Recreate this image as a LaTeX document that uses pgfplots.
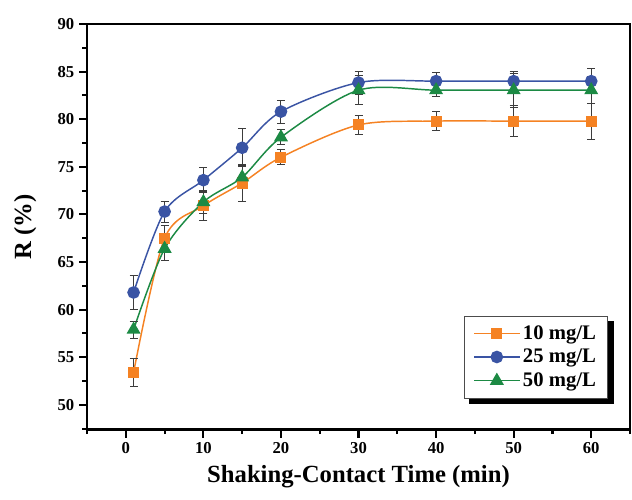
\documentclass[border=0pt]{standalone}
\usepackage{pgfplots}
\pgfplotsset{compat=1.18}
\usepackage{pgfplotstable}
\usepackage{fontspec}
\setmainfont{Liberation Serif}
\usetikzlibrary{backgrounds}

\definecolor{corange}{RGB}{245,130,35}
\definecolor{cblue}{RGB}{58,84,164}
\definecolor{cgreen}{RGB}{28,138,68}
\definecolor{cerr}{RGB}{60,60,60}

% time  R  error
\pgfplotstableread{
t   r     e
1   53.4  1.5
5   67.5  1.3
10  70.9  1.5
15  73.3  1.9
20  76.0  0.8
30  79.4  1.0
40  79.8  1.0
50  79.8  1.6
60  79.8  1.9
}\tenmg
\pgfplotstableread{
t   r     e
1   61.8  1.8
5   70.3  1.1
10  73.6  1.3
15  77.0  2.0
20  80.8  1.2
30  83.85 1.2
40  84.0  0.9
50  84.0  1.0
60  84.0  1.3
}\twentyfivemg
\pgfplotstableread{
t   r     e
1   57.9  0.9
5   66.4  1.2
10  71.3  1.2
15  73.9  1.2
20  78.1  0.8
30  83.05 1.5
40  83.05 0.7
50  83.05 1.8
60  83.05 1.4
}\fiftymg

\begin{document}
\begin{tikzpicture}
\begin{axis}[
    name=ax,
    scale only axis,
    width=407pt, height=304pt,
    xmin=-5, xmax=65,
    ymin=47.4, ymax=90,
    xtick={0,10,...,60},
    minor xtick={-5,5,...,65},
    ytick={50,55,...,90},
    minor ytick={47.5,52.5,...,87.5},
    tick pos=left,
    tick align=outside,
    major tick length=6pt,
    minor tick length=3.5pt,
    every tick/.style={black, line width=1.6pt},
    axis line style={line width=2pt},
    /pgf/number format/assume math mode=true,
    tick label style={font=\bfseries\fontsize{12.5}{14}\selectfont},
    xlabel={Shaking-Contact Time (min)},
    ylabel={R (\%)},
    label style={font=\bfseries\fontsize{18.5}{21}\selectfont},
    xlabel style={yshift=-2pt},
    ylabel style={yshift=9pt},
    legend cell align=left,
    legend style={
        name=leg,
        at={(0.96,0.077)}, anchor=south east,
        draw=black!70, line width=0.6pt, fill=white,
        font=\bfseries\fontsize{15.5}{17}\selectfont,
        inner xsep=7pt, inner ysep=5pt,
        row sep=2pt,
    },
    legend image code/.code={
        \draw[#1, sharp plot, mark=none, line width=1.1pt] (0pt,0pt) -- (34pt,0pt);
        \draw[#1, only marks] plot coordinates {(17pt,0pt)};
    },
    every axis plot/.append style={line width=1.1pt},
    error bars/error bar style={cerr, line width=0.7pt},
    error bars/error mark options={rotate=90, mark size=3pt, cerr, line width=0.7pt},
]
\addplot[corange, smooth, mark=square*, mark size=3.6pt,
    error bars/.cd, y dir=both, y explicit]
    table[x=t, y=r, y error=e] {\tenmg};
\addlegendentry{10 mg/L}
\addplot[cblue, smooth, mark=*, mark size=4.2pt,
    error bars/.cd, y dir=both, y explicit]
    table[x=t, y=r, y error=e] {\twentyfivemg};
\addlegendentry{25 mg/L}
\addplot[cgreen, smooth, mark=triangle*, mark size=5pt,
    error bars/.cd, y dir=both, y explicit]
    table[x=t, y=r, y error=e] {\fiftymg};
\addlegendentry{50 mg/L}
\end{axis}
\begin{pgfonlayer}{background}
\fill[black] ([xshift=4pt,yshift=-4pt]leg.south west) rectangle ([xshift=4pt,yshift=-4pt]leg.north east);
\end{pgfonlayer}
\pgfresetboundingbox
\path[use as bounding box] ([xshift=-65.25pt,yshift=-52.5pt]ax.south west)
    rectangle ([xshift=1.5pt,yshift=18pt]ax.north east);
\end{tikzpicture}
\end{document}
